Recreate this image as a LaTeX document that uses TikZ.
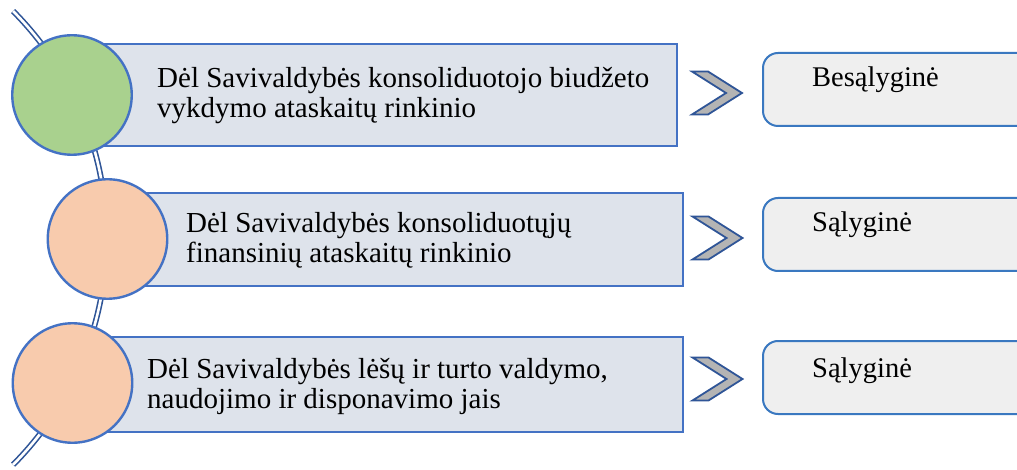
\documentclass[tikz,border=0pt]{standalone}
\usepackage{fontspec}
\setmainfont{Liberation Serif}
\definecolor{bordblue}{HTML}{4472C4}
\definecolor{arcblue}{HTML}{2F5597}
\definecolor{rectfill}{HTML}{DEE3EB}
\definecolor{greenfill}{HTML}{A9D18E}
\definecolor{peachfill}{HTML}{F8CBAD}
\definecolor{boxfill}{HTML}{EFEFEF}
\definecolor{boxblue}{HTML}{3A78C0}
\definecolor{chevfill}{HTML}{B4B4B4}
\tikzset{
  bar/.style={draw=bordblue, fill=rectfill, line width=2.4pt},
  ball/.style={circle, draw=bordblue, line width=2.4pt, minimum size=119.5pt, inner sep=0pt},
  result/.style={draw=boxblue, fill=boxfill, line width=2pt, rounded corners=15pt},
  chev/.style={draw=arcblue, fill=chevfill, line width=1.8pt, line join=miter},
  label/.style={font=\fontsize{29}{30}\selectfont, align=left, anchor=base west, inner sep=0pt},
  rlabel/.style={font=\fontsize{28.5}{30}\selectfont, anchor=base west, inner sep=0pt},
}
\begin{document}
\begin{tikzpicture}[x=1pt,y=1pt]
\useasboundingbox (0,0) rectangle (1017,469);
\clip (0,0) rectangle (1017,469);
% arc
\coordinate (arcstart) at (13.1,457.9);
\draw[draw=arcblue, double=white, double distance=2.6pt, line width=1.6pt]
  (arcstart) arc[start angle=44.8, end angle=-44.8, radius=321.9pt];
% bars
\draw[bar] (72,323) rectangle (677,425);
\draw[bar] (107,183) rectangle (683,276);
\draw[bar] (72,37) rectangle (683,132);
% circles
\node[ball, fill=greenfill] (c1) at (72,374) {};
\node[ball, fill=peachfill] (c2) at (107.5,230) {};
\node[ball, fill=peachfill] (c3) at (72.5,86) {};
% texts (anchor = baseline of the last line)
\node[label] (t1) at (157,351) {Dėl Savivaldybės konsoliduotojo biudžeto\\vykdymo ataskaitų rinkinio};
\node[label] (t2) at (186,206) {Dėl Savivaldybės konsoliduotųjų\\finansinių ataskaitų rinkinio};
\node[label] (t3) at (147,61) {Dėl Savivaldybės lėšų ir turto valdymo,\\naudojimo ir disponavimo jais};
% chevrons
\foreach \cx/\cy in {717/376, 717.5/231, 717.5/90}{
  \draw[chev] (\cx-25,\cy+21.5) -- (\cx-9,\cy+21.5) -- (\cx+25,\cy) -- (\cx-9,\cy-21.5) -- (\cx-25,\cy-21.5) -- (\cx+9,\cy) -- cycle;
}
% result boxes
\draw[result] (763,343) rectangle (1060,416);
\draw[result] (763,198) rectangle (1060,271);
\draw[result] (763,55) rectangle (1060,128);
\node[rlabel] (r1) at (812,382) {Besąlyginė};
\node[rlabel] (r2) at (812,237) {Sąlyginė};
\node[rlabel] (r3) at (812,92) {Sąlyginė};
\end{tikzpicture}
\end{document}
